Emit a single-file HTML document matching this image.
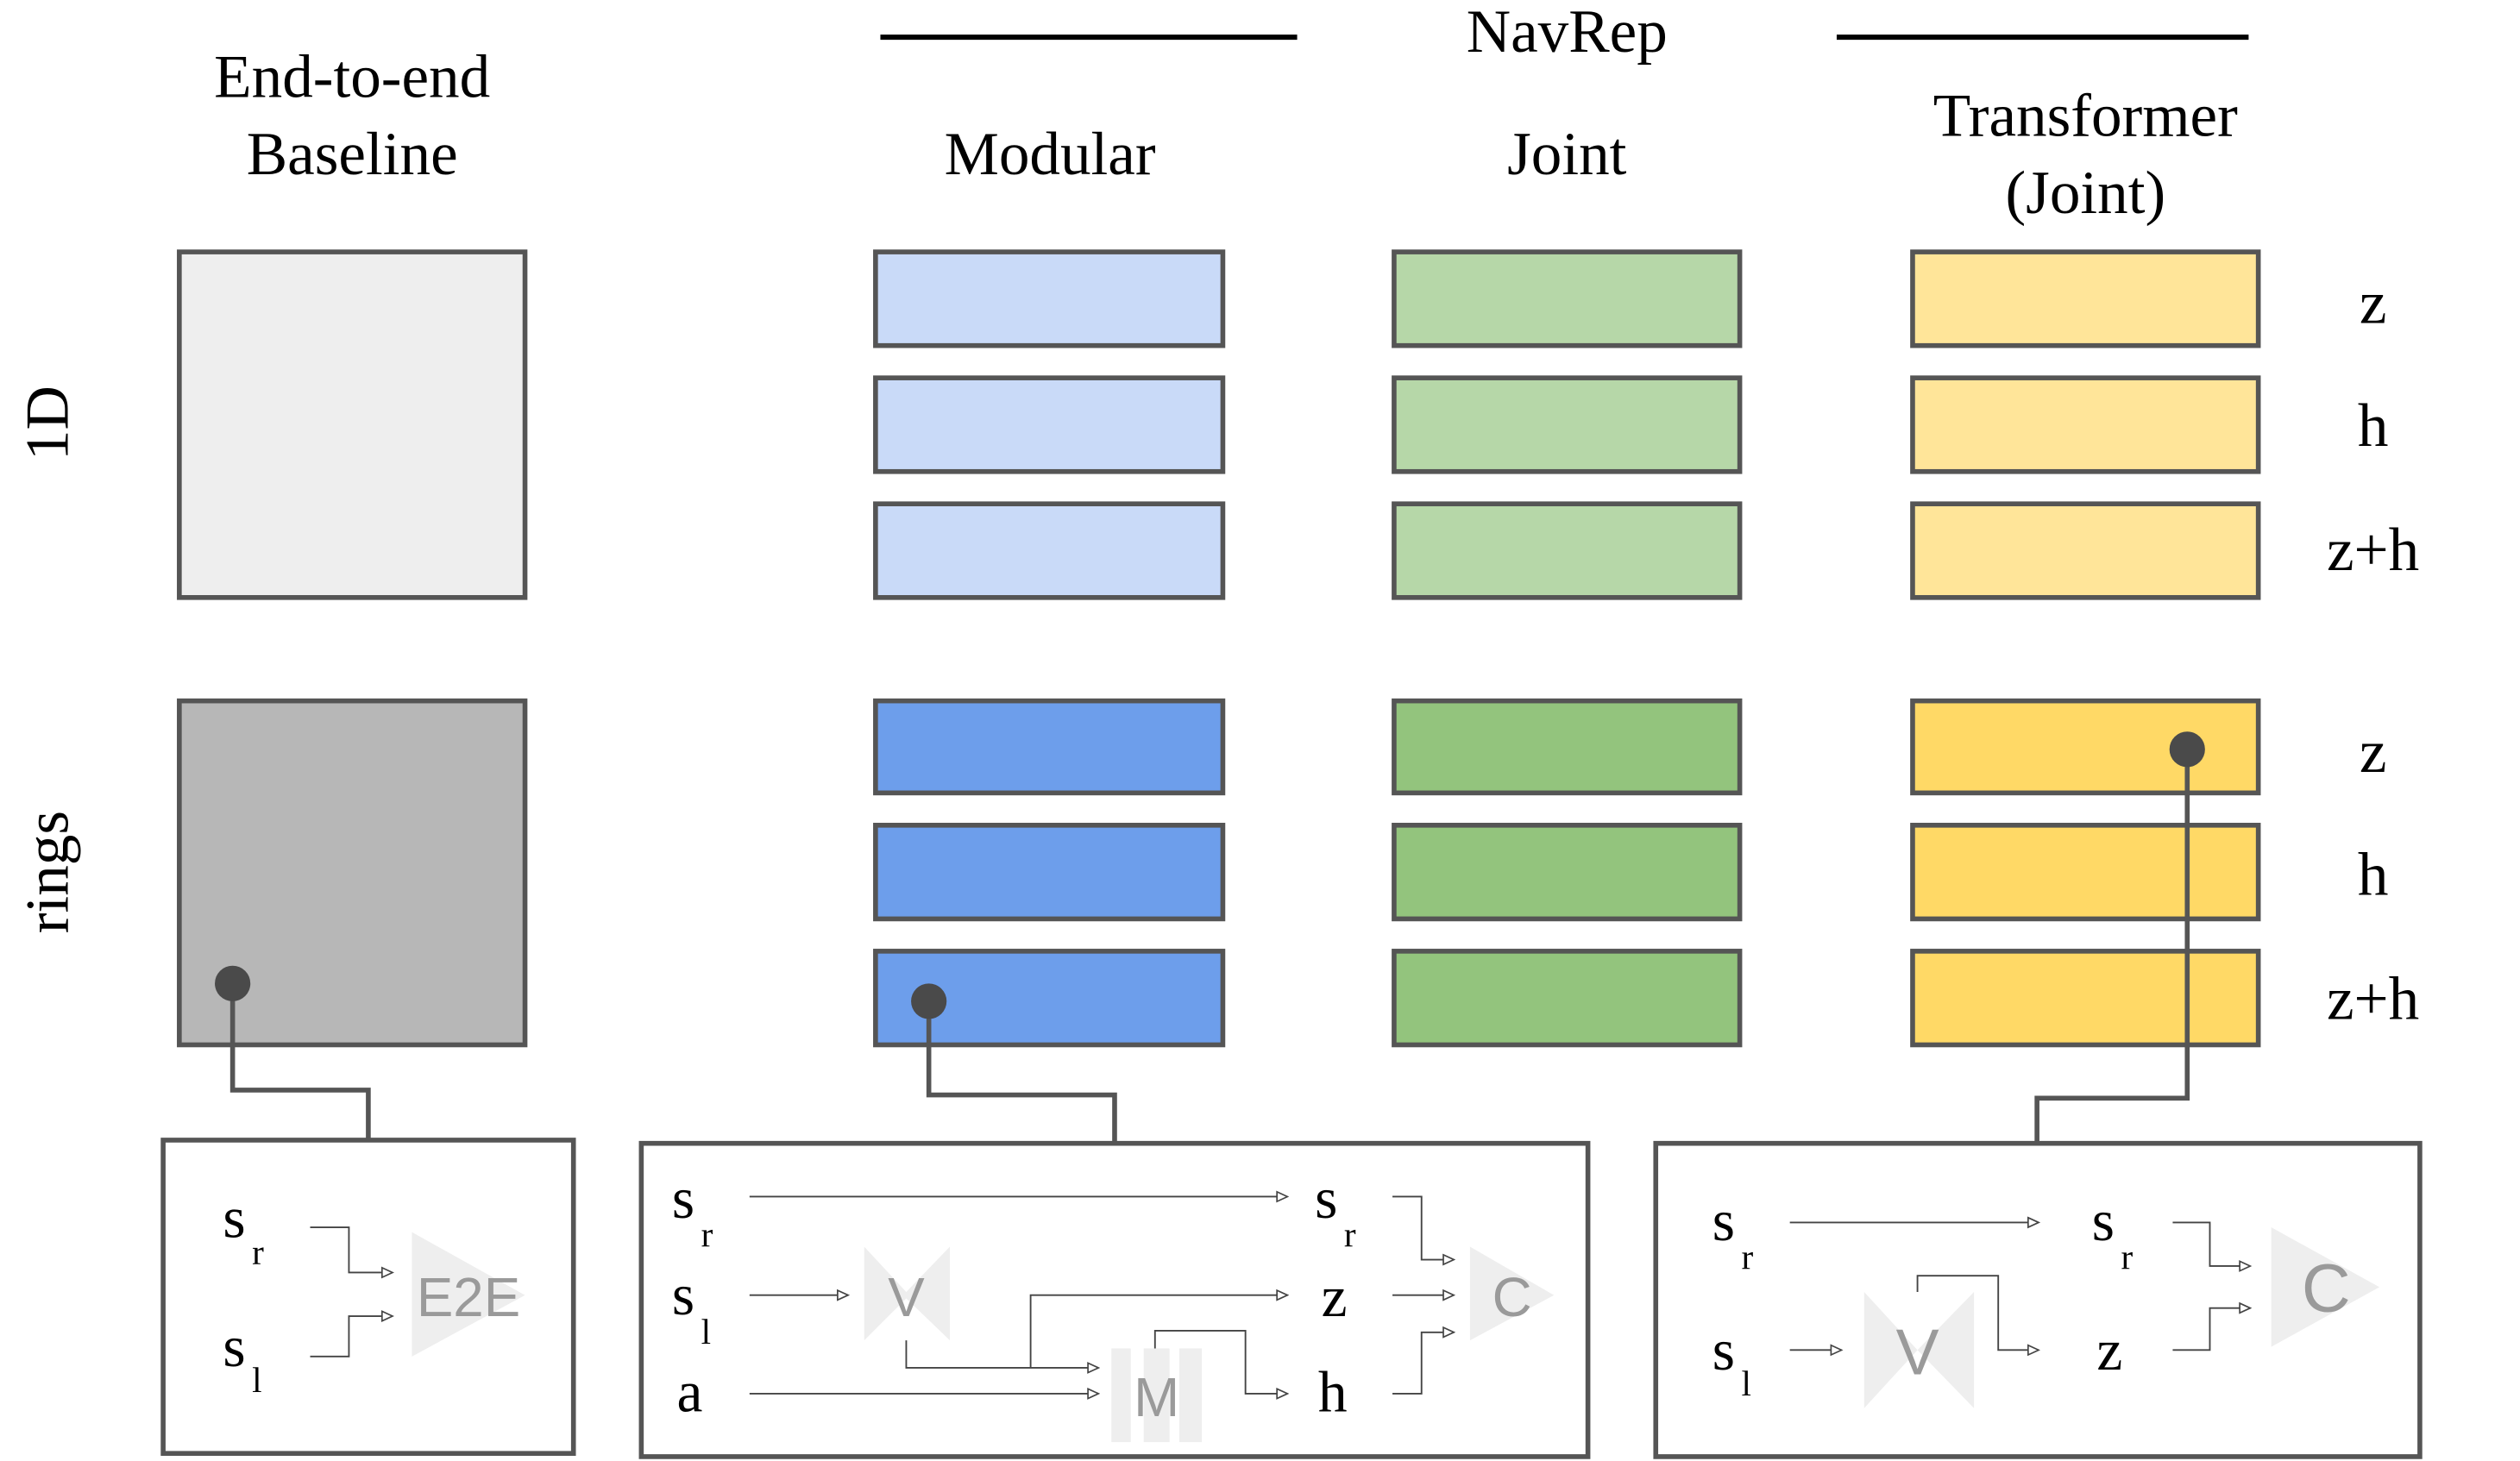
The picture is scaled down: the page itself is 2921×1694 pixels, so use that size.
<!DOCTYPE html>
<html><head><meta charset="utf-8"><style>
html,body{margin:0;padding:0;background:#fff;}
svg{display:block;}
text{font-family:"Liberation Serif",serif;fill:#000;}
.g{font-family:"Liberation Sans",sans-serif;fill:#9a9a9a;}
</style></head><body>
<svg width="2921" height="1694" viewBox="0 0 1560 904.7" xmlns="http://www.w3.org/2000/svg">
<defs>
<marker id="a" markerWidth="8" markerHeight="8" refX="7" refY="4" orient="auto" markerUnits="userSpaceOnUse">
<path d="M0.5,1 L7,4 L0.5,7 Z" fill="#fff" stroke="#444" stroke-width="0.9"/></marker>
</defs>
<g font-size="38" text-anchor="middle">
<text x="218" y="60">End-to-end</text>
<text x="218" y="108">Baseline</text>
<text x="650" y="108">Modular</text>
<text x="970" y="32">NavRep</text>
<text x="970" y="108">Joint</text>
<text x="1291" y="84">Transformer</text>
<text x="1291" y="132">(Joint)</text>
<text transform="translate(42,262) rotate(-90)">1D</text>
<text transform="translate(42,540) rotate(-90)">rings</text>
<text x="1469" y="200">z</text><text x="1469" y="276">h</text><text x="1469" y="353">z+h</text>
<text x="1469" y="478">z</text><text x="1469" y="554">h</text><text x="1469" y="631">z+h</text>
</g>
<line x1="545" y1="23" x2="803" y2="23" stroke="#000" stroke-width="3.2"/>
<line x1="1137" y1="23" x2="1392" y2="23" stroke="#000" stroke-width="3.2"/>
<g stroke="#555" stroke-width="3">
<rect x="111" y="156" width="214" height="214" fill="#eeeeee"/>
<rect x="111" y="434" width="214" height="213" fill="#b7b7b7"/>
<rect x="542" y="156" width="215" height="58" fill="#c9daf8"/>
<rect x="542" y="234" width="215" height="58" fill="#c9daf8"/>
<rect x="542" y="312" width="215" height="58" fill="#c9daf8"/>
<rect x="542" y="434" width="215" height="57" fill="#6d9eeb"/>
<rect x="542" y="511" width="215" height="58" fill="#6d9eeb"/>
<rect x="542" y="589" width="215" height="58" fill="#6d9eeb"/>
<rect x="863" y="156" width="214" height="58" fill="#b6d7a8"/>
<rect x="863" y="234" width="214" height="58" fill="#b6d7a8"/>
<rect x="863" y="312" width="214" height="58" fill="#b6d7a8"/>
<rect x="863" y="434" width="214" height="57" fill="#93c47d"/>
<rect x="863" y="511" width="214" height="58" fill="#93c47d"/>
<rect x="863" y="589" width="214" height="58" fill="#93c47d"/>
<rect x="1184" y="156" width="214" height="58" fill="#ffe599"/>
<rect x="1184" y="234" width="214" height="58" fill="#ffe599"/>
<rect x="1184" y="312" width="214" height="58" fill="#ffe599"/>
<rect x="1184" y="434" width="214" height="57" fill="#ffd966"/>
<rect x="1184" y="511" width="214" height="58" fill="#ffd966"/>
<rect x="1184" y="589" width="214" height="58" fill="#ffd966"/>
<polyline points="144,609 144,675 228,675 228,706" fill="none"/>
<polyline points="575,620 575,678 690,678 690,708" fill="none"/>
<polyline points="1354,464 1354,680 1261,680 1261,708" fill="none"/>
<rect x="101" y="706" width="254" height="194" fill="#fff"/>
<rect x="397" y="708" width="586" height="194" fill="#fff"/>
<rect x="1025" y="708" width="473" height="194" fill="#fff"/>
</g>
<g fill="#4a4a4a"><circle cx="144" cy="609" r="11"/><circle cx="575" cy="620" r="11"/><circle cx="1354" cy="464" r="11"/></g>

<!-- Box 1 -->
<polygon points="255,763 325,802 255,840" fill="#eeeeee"/>
<text class="g" x="290" y="815" font-size="34" text-anchor="middle">E2E</text>
<g font-size="36"><text x="138" y="766">s</text><text x="138" y="846">s</text></g>
<g font-size="22"><text x="156" y="783">r</text><text x="156" y="862">l</text></g>
<g stroke="#444" stroke-width="1" fill="none">
<polyline points="192,760 216,760 216,788 243,788" marker-end="url(#a)"/>
<polyline points="192,840 216,840 216,815 243,815" marker-end="url(#a)"/>
</g>

<!-- Box 2 -->
<polygon points="535,772 561,800 588,772 588,830 561,804 535,830" fill="#eeeeee"/>
<text class="g" x="561" y="815" font-size="34" text-anchor="middle">V</text>
<rect x="688" y="835" width="12" height="58" fill="#eeeeee"/>
<rect x="708" y="835" width="16" height="58" fill="#eeeeee"/>
<rect x="730" y="835" width="14" height="58" fill="#eeeeee"/>
<text class="g" x="716" y="877" font-size="34" text-anchor="middle">M</text>
<polygon points="910,772 962,802 910,830" fill="#eeeeee"/>
<text class="g" x="936" y="815" font-size="34" text-anchor="middle">C</text>
<g font-size="36"><text x="416" y="754">s</text><text x="416" y="814">s</text><text x="419" y="874">a</text>
<text x="814" y="754">s</text><text x="818" y="815">z</text><text x="816" y="874">h</text></g>
<g font-size="22"><text x="434" y="772">r</text><text x="434" y="832">l</text><text x="832" y="772">r</text></g>
<g stroke="#444" stroke-width="1" fill="none">
<line x1="464" y1="741" x2="797" y2="741" marker-end="url(#a)"/>
<line x1="464" y1="802" x2="525" y2="802" marker-end="url(#a)"/>
<line x1="464" y1="863" x2="680" y2="863" marker-end="url(#a)"/>
<polyline points="561,830 561,847 680,847" marker-end="url(#a)"/>
<polyline points="638,847 638,802 797,802" marker-end="url(#a)"/>
<polyline points="715,835 715,824 771,824 771,863 797,863" marker-end="url(#a)"/>
<polyline points="862,741 880,741 880,780 900,780" marker-end="url(#a)"/>
<line x1="862" y1="802" x2="900" y2="802" marker-end="url(#a)"/>
<polyline points="862,863 880,863 880,825 900,825" marker-end="url(#a)"/>
</g>

<!-- Box 3 -->
<polygon points="1154,800 1187,836 1222,800 1222,872 1187,836 1154,872" fill="#eeeeee"/>
<text class="g" x="1187" y="851" font-size="40" text-anchor="middle">V</text>
<polygon points="1406,760 1473,797 1406,834" fill="#eeeeee"/>
<text class="g" x="1440" y="812" font-size="42" text-anchor="middle">C</text>
<g font-size="36"><text x="1060" y="768">s</text><text x="1060" y="848">s</text>
<text x="1295" y="768">s</text><text x="1298" y="848">z</text></g>
<g font-size="22"><text x="1078" y="786">r</text><text x="1078" y="864">l</text><text x="1313" y="786">r</text></g>
<g stroke="#444" stroke-width="1" fill="none">
<line x1="1108" y1="757" x2="1262" y2="757" marker-end="url(#a)"/>
<line x1="1108" y1="836" x2="1140" y2="836" marker-end="url(#a)"/>
<polyline points="1187,800 1187,790 1237,790 1237,836 1262,836" marker-end="url(#a)"/>
<polyline points="1345,757 1368,757 1368,784 1393,784" marker-end="url(#a)"/>
<polyline points="1345,836 1368,836 1368,810 1393,810" marker-end="url(#a)"/>
</g>
</svg>
</body></html>
